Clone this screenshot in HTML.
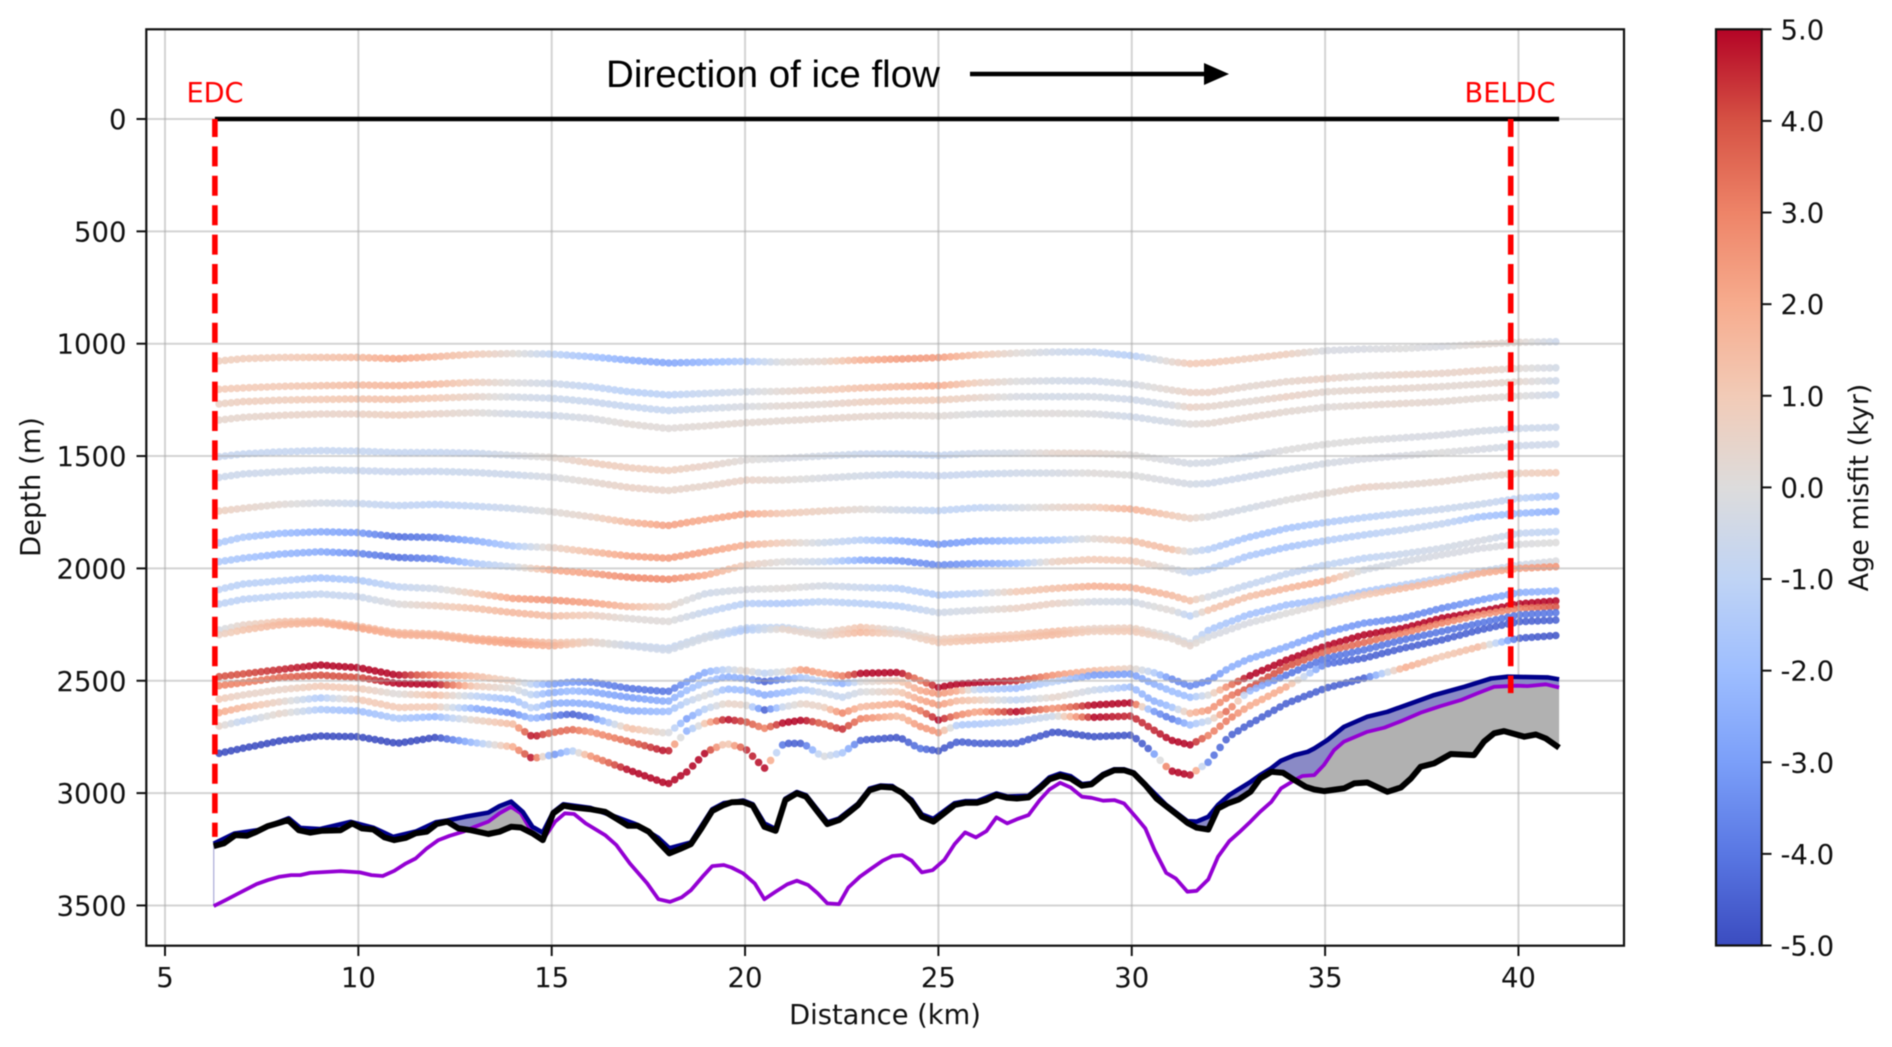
<!DOCTYPE html>
<html lang="en">
<head>
<meta charset="utf-8">
<title>Age misfit along ice flow transect</title>
<style>
html,body{margin:0;padding:0;background:#fff;}
#figure{display:block;width:1892px;height:1047px;filter:blur(0.45px);}
text{font-family:"DejaVu Sans",sans-serif;fill:#111;}
</style>
</head>
<body>
<svg id="figure" xmlns="http://www.w3.org/2000/svg" width="1892" height="1047" viewBox="0 0 1892 1047">
  <defs>
    <linearGradient id="coolwarm-gradient" x1="0" y1="1" x2="0" y2="0"></linearGradient>
    <clipPath id="plot-clip"><rect x="146.3" y="29.3" width="1477.7" height="916.4"></rect></clipPath>
  </defs>
  <rect x="0" y="0" width="1892" height="1047" fill="#fff"></rect>
  <g id="dots" clip-path="url(#plot-clip)"></g>
  <g id="grid"></g>
  <g id="bed" clip-path="url(#plot-clip)"></g>
  <g id="markers"></g>
  <rect x="146.3" y="29.3" width="1477.7" height="916.4" fill="none" stroke="#111" stroke-width="2.2"></rect>
  <g id="x-axis"></g>
  <g id="y-axis"></g>
  <text x="885" y="1024" font-size="27.3" text-anchor="middle">Distance (km)</text>
  <text transform="translate(40,487) rotate(-90)" font-size="27.3" text-anchor="middle">Depth (m)</text>
  <text x="215" y="102" font-size="27.2" text-anchor="middle" style="fill:#ff0000">EDC</text>
  <text x="1510" y="102" font-size="27.2" text-anchor="middle" style="fill:#ff0000">BELDC</text>
  <text x="606" y="87" font-size="38" textLength="334" lengthAdjust="spacingAndGlyphs" style='font-family:"Liberation Sans","Noto Sans CJK JP",sans-serif;fill:#000'>Direction of ice flow</text>
  <line x1="970" y1="74" x2="1208" y2="74" stroke="#000" stroke-width="4.4"></line>
  <polygon points="1204,63 1229,74 1204,85" fill="#000"></polygon>
  <g id="colorbar"></g>
  <text transform="translate(1868,487.5) rotate(-90)" font-size="27" text-anchor="middle">Age misfit (kyr)</text>
</svg>
<script>
const kmUpper = [6.4,7,8,9,10,11,12,13,14,15,16,17,18,19,20,21,22,23,24,25,26,27,28,29,30,31,31.5,32,33,34,35,36,37,38,39,40,41];
const kmLower = [6.4,7,8,9,10,11,12,13,14,14.5,15,15.5,16,17,18,18.5,19,19.5,20,20.5,21,21.5,22,22.5,23,24,24.5,25,25.5,26,27,28,29,30,30.5,31,31.5,32,32.5,33,34,35,36,37,38,39,40,41];

const depth1 = [1077,1067,1061,1061,1061,1067,1058,1047,1044,1046,1058,1073,1086,1082,1079,1082,1079,1073,1068,1062,1050,1042,1037,1037,1053,1080,1089,1085,1067,1047,1031,1024,1022,1013,1003,994,991];
const misfit1 = [0.8,0.9,0.9,1.2,1.5,2.2,1.6,1,0.2,-1,-1.8,-2.5,-2.8,-2.2,-1.5,0,0.4,1.8,2.4,2.4,1.2,0.2,-0.5,-0.8,-1.3,0.3,1,1,0.8,0.8,-0.2,-0.2,0,-0.2,0.3,0.3,-0.6];
const depth2 = [1203,1197,1190,1187,1184,1187,1180,1172,1174,1177,1191,1214,1228,1221,1214,1212,1206,1197,1191,1187,1174,1168,1165,1166,1180,1206,1217,1217,1191,1169,1156,1144,1138,1132,1120,1110,1107];
const misfit2 = [1,1,1,1.2,1.5,1.7,1.5,0.8,0,-0.5,-0.9,-1.2,-1.1,-0.7,-0.4,0.3,0.8,1.3,1.5,2,0.8,0,-0.4,-0.5,-0.3,0.3,0.6,0.6,0.3,0.4,0.6,0.2,0.5,0.5,0.6,0.2,-0.4];
const depth3 = [1268,1258,1251,1248,1246,1248,1242,1236,1237,1243,1258,1280,1298,1288,1280,1277,1270,1260,1254,1251,1240,1236,1236,1236,1248,1273,1283,1280,1258,1236,1214,1206,1199,1191,1180,1169,1165];
const misfit3 = [0.6,0.8,0.8,1,1.2,1.3,1,0.5,-0.3,-0.6,-0.7,-0.8,-0.8,-0.5,-0.2,0.3,0.3,0.7,0.9,0.9,0.5,-0.2,-0.4,-0.3,-0.5,-0.3,0.6,0.4,0.2,0.6,0.3,0.4,0.4,0.3,0.3,0.4,-0.5];
const depth4 = [1340,1328,1319,1313,1313,1318,1312,1307,1312,1319,1332,1358,1377,1366,1352,1343,1334,1325,1319,1322,1313,1310,1310,1312,1325,1349,1358,1355,1328,1303,1283,1274,1266,1258,1243,1233,1227];
const misfit4 = [0.4,0.4,0.5,0.5,0.6,0.8,0.5,0.2,-0.4,-0.5,-0.2,0.2,0.1,0.2,0.3,0.3,0.4,0.4,0.3,0.2,-0.1,0,0.1,-0.1,-0.5,-0.3,0.1,0.3,0.4,0.3,0.1,0.3,0.4,0.3,0.2,0.1,-0.6];
const depth5 = [1503,1491,1481,1476,1478,1485,1484,1487,1497,1506,1530,1552,1565,1544,1518,1510,1500,1491,1491,1497,1488,1487,1487,1488,1495,1521,1533,1530,1503,1473,1448,1430,1419,1407,1389,1377,1372];
const misfit5 = [-0.7,-0.8,-0.8,-0.8,-0.8,-0.8,-0.8,-0.7,-0.3,0.2,0.8,0.8,0.8,0.5,0.1,-0.2,-0.4,-0.7,-0.8,-0.8,-0.5,-0.3,0.4,0.4,0.1,-0.2,-0.3,-0.3,-0.4,0,0,0,-0.2,-0.2,-0.3,-0.5,-0.6];
const depth6 = [1595,1580,1570,1562,1565,1570,1568,1573,1583,1594,1615,1640,1654,1633,1607,1607,1598,1588,1582,1588,1580,1576,1576,1576,1585,1612,1625,1622,1592,1562,1533,1513,1499,1485,1470,1454,1447];
const misfit6 = [-0.6,-0.6,-0.5,-0.6,-0.7,-0.7,-0.7,-0.6,-0.6,-0.2,0.3,0.6,0.5,0.4,0.6,0.2,-0.2,-0.4,-0.7,-0.7,-0.7,-0.5,-0.3,0.1,0,-0.2,-0.3,-0.5,-0.5,-0.4,-0.3,-0.2,-0.2,0,-0.2,-0.5,-0.5];
const depth7 = [1745,1733,1715,1709,1711,1721,1715,1723,1733,1748,1770,1795,1810,1782,1758,1755,1745,1737,1740,1743,1730,1730,1728,1728,1736,1763,1777,1770,1733,1696,1666,1639,1629,1614,1592,1577,1574];
const misfit7 = [0.8,0.5,0.2,-0.3,-0.7,-0.9,-1.1,-0.9,-0.6,0.1,0.5,1.5,2.3,2,2.2,1,0.7,0.2,-0.5,-1,-1,-0.4,0.4,0.8,1.8,1,0.6,-0.1,-0.4,0,0.2,0.6,0.3,0.4,0.3,0.7,1];
const depth8 = [1886,1862,1844,1837,1841,1859,1862,1877,1901,1907,1926,1945,1955,1926,1896,1886,1886,1874,1877,1893,1878,1877,1874,1868,1877,1915,1926,1915,1862,1822,1796,1774,1755,1737,1715,1688,1678];
const misfit8 = [-1.5,-1.5,-2,-2.6,-3,-4.2,-3.8,-2.5,-1.5,0.5,1.4,2.2,2.4,2.2,1.8,0.8,-0.5,-1.2,-2.4,-3.2,-2.8,-2,-1.5,0.2,1.2,1.5,-0.3,-1.2,-1.7,-1.7,-1.4,-1.2,-0.9,-0.7,-0.6,-1,-1.8];
const depth9 = [1970,1955,1936,1926,1933,1951,1957,1978,1993,2007,2022,2040,2049,2030,1985,1970,1970,1963,1966,1985,1978,1978,1970,1960,1966,2000,2019,2004,1945,1906,1877,1851,1829,1802,1770,1755,1746];
const misfit9 = [-1.5,-1.7,-2.2,-2.6,-3.5,-4.2,-3.5,-1.5,-0.5,2,2.2,2.8,2.8,2,0.8,0,-0.7,-2.5,-3.2,-3.5,-3,-2,0.7,1,1,0,-0.8,-1,-1.5,-1.7,-1.3,-1.2,-0.8,-0.8,-1.7,-2,-2.5];
const depth10 = [2094,2070,2055,2042,2052,2082,2090,2111,2134,2141,2153,2171,2171,2111,2094,2089,2077,2085,2089,2119,2111,2104,2089,2079,2085,2119,2144,2126,2074,2025,1985,1955,1936,1911,1877,1844,1836];
const misfit10 = [-1,-1.2,-1.2,-1.8,-1.5,-0.9,-0.4,1,2.2,2.6,2.2,1.5,0.5,-0.5,-0.2,0.1,-0.3,-0.7,-1.2,-1.4,-1,1,1.3,1.8,1.8,1.5,1.3,-0.3,-0.8,-0.8,-0.9,-1,-0.6,-0.4,-0.2,-0.8,-1];
const depth11 = [2159,2138,2123,2114,2126,2159,2166,2178,2197,2212,2208,2223,2237,2193,2156,2156,2148,2156,2168,2197,2186,2178,2156,2148,2148,2186,2212,2185,2126,2089,2056,2007,1970,1940,1911,1893,1885];
const misfit11 = [-1,-1.1,-1,-0.8,-0.7,0,0.7,1.3,1.6,1.4,0.8,0.1,0.1,-0.8,-1.2,-1.5,-1,-1.2,-1.2,-0.5,-0.2,0.6,0.6,-0.3,-0.4,0.2,-1.1,1.2,1.3,1.6,1.8,-0.3,-0.3,-0.2,-0.2,-0.1,0];
const depth12 = [2274,2252,2237,2234,2257,2286,2292,2312,2322,2331,2326,2341,2356,2300,2265,2262,2285,2262,2275,2315,2305,2295,2280,2268,2265,2300,2333,2274,2207,2163,2138,2104,2074,2044,2014,1985,1967];
const misfit12 = [-0.3,0.5,1.2,1.4,1.6,1.5,1.5,1.8,2,1.3,0.6,-0.5,-0.8,-0.5,-1,-0.8,0.2,1.2,-0.2,0.7,1,1,1.4,0.5,0.8,-0.3,-0.2,-1.5,-1.8,-1.8,-1.8,-1.6,-1.2,-1,-0.8,-0.5,-0.1];
const depth13 = [2295,2275,2250,2242,2265,2295,2300,2320,2335,2345,2330,2345,2365,2310,2275,2270,2300,2285,2290,2330,2320,2310,2295,2280,2280,2310,2345,2304,2244,2200,2158,2118,2089,2059,2022,2000,1992];
const misfit13 = [0.6,1.2,1.6,1.8,2.2,1.8,1.8,2,2.2,1.8,0.5,-0.5,-0.5,-0.3,-1.5,0.5,0.3,1.6,0.4,1,1.3,1.3,1.5,0.8,1,0.3,0.4,-0.2,-0.2,0,0.2,1,1.5,1.5,1.8,2.2,2.6];

const depth14 = [2482,2470,2450,2430,2442,2475,2475,2479,2501,2516,2515,2506,2506,2534,2549,2504,2460,2450,2455,2467,2460,2450,2467,2479,2467,2463,2497,2530,2515,2509,2500,2475,2456,2445,2460,2490,2524,2500,2445,2405,2349,2286,2244,2222,2178,2141,2108,2100];
const misfit14 = [4,4,4.5,5,5,5,3,1.5,0.5,-1,-3,-3,-3.5,-4,-4,-3,-2.5,-1,0.5,-1,0,2.5,2,3,5,5,3,5,5,5,4.5,2.5,1.5,0.5,-1,-3.5,-3.5,-3.5,-2.5,-2.5,-2.5,-3,-3.2,-3.5,-3.5,-3,-2.5,-2.2];
const depth15 = [2522,2509,2485,2475,2485,2512,2516,2524,2534,2564,2553,2545,2549,2574,2593,2542,2504,2482,2490,2504,2494,2485,2504,2512,2504,2500,2542,2559,2545,2539,2534,2504,2475,2470,2509,2545,2574,2564,2524,2482,2408,2346,2296,2267,2222,2192,2158,2144];
const misfit15 = [3,3,3.5,4,4,5,5,1,0,-1,-2.5,-2,-2.5,-3,-2.5,-2,-1.5,-2.5,-2.5,-4.5,-3,-1.5,-1,-2.5,0,1,2,2.5,2,-1,-2,-1,-3,-3,-2.5,-2,-2,0,3,5,5,5,5,5,5,5,5,5];
const depth16 = [2582,2564,2539,2524,2534,2559,2564,2568,2583,2623,2601,2598,2604,2634,2638,2593,2564,2537,2542,2564,2553,2539,2553,2574,2549,2549,2583,2608,2589,2586,2586,2574,2542,2527,2586,2616,2645,2631,2571,2534,2438,2371,2330,2289,2244,2207,2178,2170];
const misfit16 = [1,0.5,0.5,1,1,0,1.5,-1,-2,-1,-2.5,-2.5,-2.5,-2.5,-2,-1,0,-2,-2,-2.5,-2,-1.5,-0.5,-0.8,-0.2,1,2,2.5,1.5,1,-1,0.5,-0.5,-2,-2.5,-2,1.5,2.5,3,4,4,3.5,3.5,3,3,2.5,3,4];
const depth17 = [2642,2619,2593,2576,2583,2619,2616,2623,2645,2668,2657,2648,2663,2712,2734,2668,2623,2601,2608,2630,2616,2601,2616,2645,2616,2601,2630,2675,2653,2638,2638,2623,2608,2598,2631,2668,2697,2678,2631,2549,2475,2401,2363,2319,2281,2244,2207,2197];
const misfit17 = [2,1.5,0.5,-1.5,1,1,1,-2.5,-3.5,-2,-3.5,-4.5,-4,1.5,0,-3,-1,0.5,0.5,-4.5,-0.5,0.5,0.5,3,1.5,2,3,5,3,2,5,2.5,5,5,-3,-4,-2,-0.5,4,-2,-4,-4,-4,-4,-4,-4,-4,-4];
const depth18 = [2702,2680,2645,2628,2634,2668,2660,2675,2693,2749,2731,2717,2727,2771,2816,2722,2687,2672,2682,2712,2687,2675,2690,2717,2668,2657,2702,2731,2697,2693,2682,2657,2663,2657,2712,2764,2786,2742,2672,2616,2527,2426,2400,2356,2319,2274,2237,2230];
const misfit18 = [0.5,-1,0.5,-1.5,-2,-1.5,-2.2,0.5,1.5,5,3.5,3.5,2.5,3.5,5,-2.5,1.5,5,4,3,5,5,3.5,4.5,3,1.5,2.5,2.5,-1.5,-1.5,-1,-0.5,5,4.5,4.5,5,5,3,3.2,2,2,-4,-4.5,-4.5,-4.5,-4.5,-4.5,-4.5];
const depth19 = [2823,2801,2767,2746,2749,2779,2752,2776,2794,2846,2831,2811,2835,2898,2960,2905,2816,2779,2801,2890,2779,2779,2838,2823,2764,2752,2801,2812,2771,2779,2779,2727,2749,2742,2812,2901,2920,2860,2749,2697,2601,2534,2489,2445,2393,2348,2311,2298];
const misfit19 = [-5,-5,-5,-5,-5,-5,-5,-2,2,5,-3.5,-1.5,2.5,5,5,5,5,0.5,4.5,5,-4.5,-4.5,0,-1.5,-4.5,-4.8,-4,-4.8,-4.5,-4.5,-4.5,-4.8,-4.8,-4.8,-4.5,5,5,-4,-4.5,-4.5,-4.5,-4.5,-4.5,2,1,1.5,-4.5,-4.8];

const bedKm = [6.26,6.52,6.82,7.12,7.37,7.66,7.96,8.18,8.46,8.75,9.05,9.54,9.84,10.09,10.39,10.68,10.93,11.23,11.48,11.77,12.02,12.3,12.59,12.91,13.36,13.65,13.95,14.2,14.5,14.77,15.04,15.31,15.58,15.98,16.38,16.67,16.97,17.22,17.51,17.76,18.04,18.31,18.6,18.87,19.15,19.45,19.65,19.95,20.2,20.5,20.79,21.04,21.34,21.58,21.88,22.13,22.43,22.67,22.92,23.22,23.51,23.81,24.06,24.31,24.57,24.87,25.15,25.42,25.69,25.99,26.24,26.5,26.78,27.03,27.33,27.62,27.87,28.15,28.42,28.71,28.96,29.26,29.55,29.8,30.05,30.35,30.64,30.89,31.19,31.44,31.68,31.98,32.23,32.48,32.77,33.07,33.32,33.61,33.91,34.21,34.5,34.72,34.97,35.49,35.75,36.09,36.61,36.96,37.22,37.47,37.82,38.25,38.85,39.11,39.37,39.63,40.15,40.45,40.71,41.05];
const bedDepth = [3236,3224,3187,3190,3172,3147,3132,3120,3165,3176,3168,3165,3135,3157,3162,3197,3209,3199,3179,3172,3138,3127,3157,3165,3182,3172,3150,3153,3179,3209,3090,3056,3064,3071,3083,3113,3145,3145,3172,3217,3268,3249,3227,3157,3079,3053,3041,3039,3056,3150,3168,3031,3001,3016,3083,3138,3120,3088,3053,2987,2972,2975,2998,3039,3105,3127,3090,3053,3043,3043,3031,3009,3021,3024,3019,2979,2939,2923,2935,2967,2961,2920,2898,2898,2912,2964,3024,3058,3098,3132,3154,3162,3068,3046,3028,2994,2935,2905,2909,2942,2972,2984,2991,2979,2957,2953,2994,2975,2935,2883,2868,2826,2831,2771,2734,2724,2749,2739,2757,2798];

const purpleKm = [6.26,6.57,6.87,7.37,7.66,7.96,8.26,8.5,8.75,9.54,10.04,10.34,10.63,10.93,11.23,11.48,11.77,12.07,12.36,12.71,13.01,13.36,13.65,13.95,14.2,14.5,14.77,15.09,15.34,15.58,15.88,16.38,16.67,17.02,17.47,17.76,18.06,18.36,18.6,18.9,19.15,19.45,19.65,19.95,20.25,20.5,20.79,21.09,21.34,21.63,21.88,22.13,22.43,22.67,22.97,23.27,23.56,23.81,24.06,24.31,24.57,24.85,25.15,25.42,25.69,25.97,26.24,26.5,26.78,27.03,27.33,27.62,27.87,28.15,28.42,28.71,28.96,29.26,29.55,29.8,30.1,30.35,30.59,30.89,31.14,31.44,31.68,31.98,32.23,32.52,32.77,33.07,33.32,33.61,33.86,34.21,34.41,34.72,34.97,35.23,35.49,36.09,36.53,36.96,37.47,37.99,38.51,38.94,39.37,39.97,40.23,40.71,41.05];
const purpleDepth = [3503,3476,3449,3405,3387,3372,3365,3365,3355,3347,3353,3365,3369,3346,3313,3291,3246,3209,3190,3172,3150,3127,3090,3061,3090,3176,3209,3127,3090,3093,3135,3187,3231,3313,3402,3472,3484,3464,3432,3372,3325,3320,3331,3357,3402,3472,3439,3406,3390,3409,3446,3491,3494,3420,3372,3335,3301,3280,3276,3301,3353,3343,3298,3227,3175,3197,3169,3108,3135,3116,3098,3031,2984,2954,2975,3016,3021,3034,3031,3046,3105,3157,3254,3355,3380,3439,3435,3384,3283,3214,3176,3127,3083,3039,2979,2942,2924,2920,2875,2809,2771,2727,2709,2680,2642,2613,2586,2556,2527,2522,2524,2516,2530];

const navyKm = [6.26,6.8,7.4,8.2,8.5,9,9.8,10.4,10.9,11.5,12,12.3,12.76,13.36,13.65,13.95,14.25,14.5,14.77,15.04,15.3,16,16.7,17.2,17.76,18.04,18.6,19.15,19.45,19.95,20.2,20.5,20.79,21.04,21.34,21.58,22.13,22.43,22.92,23.22,23.51,23.81,24.31,24.57,24.87,25.42,25.69,26,26.5,26.78,27.33,27.62,27.87,28.15,28.42,28.71,28.96,29.26,29.55,29.8,30.05,30.35,30.89,31.44,31.68,31.98,32.23,32.52,33.07,33.32,33.6,33.86,34.21,34.55,34.72,35.06,35.49,36.09,36.61,37.22,37.82,38.6,39.29,39.72,40.75,41.05];
const navyDepth = [3225,3180,3165,3112,3155,3160,3128,3155,3195,3170,3130,3122,3105,3087,3058,3038,3083,3150,3176,3085,3050,3066,3108,3140,3200,3245,3220,3072,3045,3033,3050,3135,3160,3025,2995,3010,3130,3113,3047,2980,2966,2969,3030,3095,3115,3045,3036,3036,3002,3015,3012,2970,2930,2913,2925,2960,2955,2915,2894,2894,2908,2960,3053,3125,3127,3105,3053,3009,2950,2920,2890,2856,2831,2816,2801,2764,2705,2660,2638,2601,2564,2527,2490,2482,2485,2494];

const surfaceKm = [6.29,41.05];
const surfaceDepth = [0,0];
const edcKm = [6.29];
const edcBottomDepth = [3195];
const beldcKm = [39.8];
const beldcBottomDepth = [2555];

const xTickValues = [5,10,15,20,25,30,35,40];
const yTickValues = [0,500,1000,1500,2000,2500,3000,3500];
const colorbarTickValues = [5,4,3,2,1,0,-1,-2,-3,-4,-5];
const colorbarTickLabels = ["5.0","4.0","3.0","2.0","1.0","0.0","-1.0","-2.0","-3.0","-4.0","-5.0"];
const coolwarmStops = ["#3b4cc0","#5977e3","#7b9ff9","#9ebeff","#c0d4f5","#dddcdc","#f2cbb7","#f7ac8e","#ee8468","#d65244","#b40426"];

const svgNS = "http://www.w3.org/2000/svg";
const xScale = function(km){ return 165 + (km - 5) * 38.67; };
const yScale = function(depth){ return 119 + depth * 0.2247; };
const misfitScale = function(m){ return 945.5 - (m + 5) * 91.62; };

function make(tag, parent, attrs){
  const el = document.createElementNS(svgNS, tag);
  for (const k in attrs) el.setAttribute(k, attrs[k]);
  parent.appendChild(el);
  return el;
}
function lerp(xs, ys, x){
  if (x <= xs[0]) return ys[0];
  for (let i = 1; i < xs.length; i++){
    if (x <= xs[i]) return ys[i-1] + (ys[i] - ys[i-1]) * (x - xs[i-1]) / (xs[i] - xs[i-1]);
  }
  return ys[ys.length - 1];
}
function hexRgb(h){ return [parseInt(h.substr(1,2),16),parseInt(h.substr(3,2),16),parseInt(h.substr(5,2),16)]; }
function coolwarm(m){
  const t = Math.max(0, Math.min(1, (m + 5) / 10)) * (coolwarmStops.length - 1);
  const i = Math.min(Math.floor(t), coolwarmStops.length - 2);
  const a = hexRgb(coolwarmStops[i]);
  const b = hexRgb(coolwarmStops[i+1]);
  const f = t - i;
  return "rgb(" + a.map(function(v, c){ return Math.round(v + (b[c] - v) * f); }).join(",") + ")";
}

/* layer dots */
const layerSeries = [
  [kmUpper,depth1,misfit1],[kmUpper,depth2,misfit2],[kmUpper,depth3,misfit3],[kmUpper,depth4,misfit4],
  [kmUpper,depth5,misfit5],[kmUpper,depth6,misfit6],[kmUpper,depth7,misfit7],[kmUpper,depth8,misfit8],
  [kmUpper,depth9,misfit9],[kmUpper,depth10,misfit10],[kmUpper,depth11,misfit11],[kmUpper,depth12,misfit12],
  [kmUpper,depth13,misfit13],[kmLower,depth14,misfit14],[kmLower,depth15,misfit15],[kmLower,depth16,misfit16],
  [kmLower,depth17,misfit17],[kmLower,depth18,misfit18],[kmLower,depth19,misfit19]
];
const dotsGroup = document.getElementById("dots");
layerSeries.forEach(function(series, index){
  const layer = make("g", dotsGroup, {});
  
  
  layer.setAttribute('data-layer', String(index + 1));
  const kms = series[0], depths = series[1], misfits = series[2];
  for (let km = kms[0]; km <= kms[kms.length - 1] + 0.001; km += 0.155){
    const dot = make("circle", layer, {cx:xScale(km).toFixed(1), cy:yScale(lerp(kms, depths, km)).toFixed(1), r:3.8, fill:coolwarm(lerp(kms, misfits, km)), "fill-opacity":0.88});
    
    
  }
});

/* grid */
const gridGroup = document.getElementById("grid");
xTickValues.forEach(function(v){
  const g = make("line", gridGroup, {x1:xScale(v), x2:xScale(v), y1:29.3, y2:945.7, stroke:"#a8a8a8", "stroke-opacity":0.5, "stroke-width":2});
  
  
});
yTickValues.forEach(function(v){
  const g = make("line", gridGroup, {x1:146.3, x2:1624, y1:yScale(v), y2:yScale(v), stroke:"#a8a8a8", "stroke-opacity":0.5, "stroke-width":2});
  
  
});

/* bed fills and lines */
const bedGroup = document.getElementById("bed");
const mergedKm = Array.from(new Set(bedKm.concat(purpleKm, navyKm))).sort(function(a,b){ return a-b; });
function bandPath(upperFn, lowerFn){
  const top = mergedKm.map(function(k){ return xScale(k).toFixed(1) + "," + yScale(upperFn(k)).toFixed(1); });
  const bottom = mergedKm.slice().reverse().map(function(k){ return xScale(k).toFixed(1) + "," + yScale(lowerFn(k)).toFixed(1); });
  return top.concat(bottom).join(" ");
}
function upperBed(k){ return Math.min(lerp(purpleKm, purpleDepth, k), lerp(bedKm, bedDepth, k)); }
const greyBand = make("polygon", bedGroup, {points:bandPath(upperBed, function(k){ return lerp(bedKm, bedDepth, k); }), fill:"#b1b1b1"});


const blueBand = make("polygon", bedGroup, {points:bandPath(function(k){ return Math.min(lerp(navyKm, navyDepth, k), upperBed(k)); }, upperBed), fill:"#8a8ac6"});


const edge = make("line", bedGroup, {x1:xScale(purpleKm[0]), x2:xScale(purpleKm[0]), y1:yScale(navyDepth[0]), y2:yScale(purpleDepth[0]), stroke:"#00008b", "stroke-opacity":0.4, "stroke-width":1});


function linePoints(kms, depths){
  return kms.map(function(k, i){ return xScale(k).toFixed(1) + "," + yScale(depths[i]).toFixed(1); }).join(" ");
}
const purpleLine = make("polyline", bedGroup, {points:linePoints(purpleKm, purpleDepth), fill:"none", stroke:"#9400d3", "stroke-width":3.8, "stroke-linejoin":"round"});


const navyLine = make("polyline", bedGroup, {points:linePoints(navyKm, navyDepth), fill:"none", stroke:"#00008b", "stroke-width":4.6, "stroke-linejoin":"round"});


const blackLine = make("polyline", bedGroup, {points:linePoints(bedKm, bedDepth), fill:"none", stroke:"#000", "stroke-width":6, "stroke-linejoin":"round"});



/* markers */
const markerGroup = document.getElementById("markers");
const surfaceLine = make("polyline", markerGroup, {points:linePoints(surfaceKm, surfaceDepth), fill:"none", stroke:"#000", "stroke-width":4.6});


const edcLine = make("line", markerGroup, {x1:xScale(edcKm[0]), x2:xScale(edcKm[0]), y1:yScale(0), y2:yScale(edcBottomDepth[0]), stroke:"#ff0000", "stroke-width":5.6, "stroke-dasharray":"20 9.4", "stroke-dashoffset":2});


const beldcLine = make("line", markerGroup, {x1:xScale(beldcKm[0]), x2:xScale(beldcKm[0]), y1:yScale(0), y2:yScale(beldcBottomDepth[0]), stroke:"#ff0000", "stroke-width":5.6, "stroke-dasharray":"20 9.4", "stroke-dashoffset":2});



/* axes */
const xAxis = document.getElementById("x-axis");
xTickValues.forEach(function(v){
  const t = make("line", xAxis, {x1:xScale(v), x2:xScale(v), y1:945.7, y2:956, stroke:"#111", "stroke-width":2});
  
  
  const l = make("text", xAxis, {x:xScale(v), y:987, "font-size":27.5, "text-anchor":"middle"});
  
  
  l.textContent = String(v);
});
const yAxis = document.getElementById("y-axis");
yTickValues.forEach(function(v){
  const t = make("line", yAxis, {x1:136.5, x2:146.3, y1:yScale(v), y2:yScale(v), stroke:"#111", "stroke-width":2});
  
  
  const l = make("text", yAxis, {x:126.5, y:yScale(v) + 10, "font-size":27.5, "text-anchor":"end"});
  
  
  l.textContent = String(v);
});

/* colorbar */
const gradient = document.getElementById("coolwarm-gradient");
coolwarmStops.forEach(function(c, i){
  make("stop", gradient, {offset:(i / (coolwarmStops.length - 1)), "stop-color":c});
});
const cbar = document.getElementById("colorbar");
const cbarRect = make("rect", cbar, {x:1716, y:misfitScale(5), width:45.7, height:misfitScale(-5) - misfitScale(5), fill:"url(#coolwarm-gradient)", stroke:"#111", "stroke-width":2.2});


colorbarTickValues.forEach(function(v, i){
  const t = make("line", cbar, {x1:1761.7, x2:1771.5, y1:misfitScale(v), y2:misfitScale(v), stroke:"#111", "stroke-width":2});
  
  
  const l = make("text", cbar, {x:1780.5, y:misfitScale(v) + 10, "font-size":27.5});
  
  
  l.textContent = colorbarTickLabels[i];
});
</script>
</body>
</html>
